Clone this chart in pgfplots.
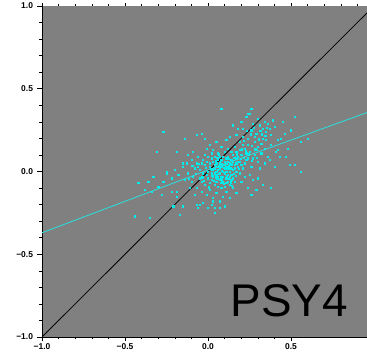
\documentclass[border=0pt]{standalone}
\usepackage{fontspec}
\setmainfont{Liberation Sans}
\usepackage{pgfplots}
\pgfplotsset{compat=1.18}
\definecolor{bggray}{RGB}{128,128,128}
\definecolor{pcyan}{RGB}{0,236,236}
\definecolor{lcyan}{RGB}{40,225,225}
\begin{document}
\begin{tikzpicture}
\begin{axis}[
  name=ax,
  scale only axis,
  width=325bp, height=331bp,
  xmin=-1, xmax=0.958, ymin=-1, ymax=1,
  axis x line*=bottom, axis y line*=left,
  axis line style={black, line width=0.6bp},
  axis background/.style={fill=bggray},
  tick align=outside,
  major tick length=4.5bp, minor tick length=2.5bp,
  tick style={black, line width=0.5bp},
  xtick={-1,-0.5,0,0.5}, xticklabels={−1.0,−0.5,0.0,0.5},
  ytick={-1,-0.5,0,0.5,1}, yticklabels={−1.0,−0.5,0.0,0.5,1.0},
  minor x tick num=4, minor y tick num=4,
  ticklabel style={font=\fontsize{8.5}{10}\selectfont\bfseries},
  xticklabel style={yshift=1bp},
  yticklabel style={xshift=-1bp},
  clip mode=individual,
]
\addplot[black, line width=0.8bp] coordinates {(-1,-1) (1,1)};
\addplot[only marks, mark=square*, mark size=0.6bp, pcyan, mark options={draw=none, fill=pcyan}] coordinates {
(0.02,0.01) (0.05,-0.02) (0.08,0.03) (0.10,-0.01) (0.12,0.02) (0.04,0.04) (0.07,-0.05) (0.09,0.00)
(0.11,-0.04) (0.13,0.05) (0.06,0.01) (0.03,-0.03) (0.01,0.03) (0.14,-0.02) (0.08,-0.07) (0.10,0.06)
(0.05,0.05) (0.12,-0.06) (0.07,0.02) (0.09,-0.03) (0.15,0.01) (0.02,-0.05) (0.04,-0.01) (0.11,0.03)
(0.13,-0.08) (0.06,-0.09) (0.08,0.07) (0.00,0.00) (-0.01,-0.02) (0.03,0.06) (0.16,0.04) (0.14,0.07)
(0.10,-0.09) (0.12,0.09) (0.05,-0.06) (0.07,0.05) (0.09,0.04) (0.11,0.00) (0.13,0.02) (0.15,-0.04)
(0.17,0.00) (0.06,-0.03) (0.04,0.02) (0.02,0.08) (0.01,-0.07) (0.08,-0.10) (0.10,0.02) (0.12,-0.02)
(0.14,0.04) (0.16,-0.06) (0.18,0.03) (0.07,-0.01) (0.09,0.09) (0.05,0.00) (0.03,0.01) (0.11,-0.07)
(0.13,0.00) (0.15,0.06) (0.17,0.08) (0.19,-0.01) (-0.02,0.04) (0.00,-0.04) (0.06,0.07) (0.08,-0.04)
(0.10,0.04) (0.12,0.06) (0.14,-0.05) (0.06,0.03) (0.04,-0.08) (0.02,-0.01) (0.09,-0.06) (0.11,0.08)
(0.13,-0.03) (0.07,0.09) (0.05,0.03) (0.16,0.02) (0.18,0.06) (0.20,0.04) (0.01,0.05) (-0.03,-0.01)
(0.035,0.015) (0.065,-0.015) (0.095,0.025) (0.115,-0.025) (0.085,0.045) (0.055,-0.045) (0.125,0.035) (0.145,0.015)
(0.075,-0.035) (0.105,0.055) (0.025,-0.025) (0.155,-0.015) (0.045,0.065) (0.165,0.055) (0.135,-0.065) (0.015,0.015)
(0.085,0.005) (0.105,-0.045) (0.125,0.075) (0.145,0.045) (0.165,-0.025) (0.185,0.015) (0.065,0.035) (0.045,-0.035)
(0.095,-0.075) (0.115,0.045) (0.135,0.025) (0.155,0.085) (0.175,0.045) (0.195,0.075) (0.215,0.085) (0.075,0.065)
(0.055,0.085) (0.035,-0.055) (0.105,0.015) (0.125,-0.045) (0.145,-0.085) (0.085,-0.055) (0.065,0.105) (0.175,0.105)
(0.20,0.10) (0.22,0.14) (0.25,0.12) (0.28,0.18) (0.30,0.15) (0.33,0.20) (0.35,0.24) (0.38,0.22)
(0.40,0.27) (0.42,0.19) (0.24,0.20) (0.26,0.25) (0.29,0.23) (0.31,0.28) (0.34,0.30) (0.37,0.26)
(0.39,0.31) (0.23,0.33) (0.25,0.35) (0.21,0.26) (0.19,0.18) (0.17,0.22) (0.27,0.08) (0.30,0.06)
(0.32,0.11) (0.34,0.14) (0.36,0.09) (0.38,0.16) (0.41,0.12) (0.44,0.20) (0.46,0.23) (0.48,0.14)
(0.50,0.25) (0.52,0.33) (0.45,0.30) (0.43,0.09) (0.47,0.09) (0.49,0.04) (0.22,0.05) (0.24,0.08)
(0.26,0.03) (0.28,0.10) (0.21,0.16) (0.23,0.11) (0.19,0.13) (0.18,0.09) (0.27,0.29) (0.30,0.32)
(0.33,0.26) (0.36,0.29) (0.24,0.16) (0.28,0.21) (0.32,0.17) (0.35,0.19) (0.29,0.13) (0.31,0.02)
(0.34,0.05) (0.37,0.07) (0.40,0.03) (0.25,-0.02) (0.27,-0.05) (0.30,-0.04) (0.33,-0.08) (0.22,-0.03)
(0.20,-0.06) (0.24,-0.10) (0.29,-0.11) (0.38,-0.10) (0.26,-0.14) (0.56,0.18) (0.60,0.20) (0.52,0.04)
(0.56,0.00) (0.42,0.13) (0.26,0.38) (0.08,0.38) (0.24,0.35) (0.23,0.07) (0.21,0.02) (0.19,0.06)
(0.225,0.125) (0.245,0.105) (0.265,0.155) (0.285,0.135) (0.305,0.195) (0.325,0.225) (0.345,0.215) (0.255,0.225)
(0.275,0.265) (0.215,0.185) (0.235,0.245) (0.315,0.245) (0.355,0.265) (0.265,0.065) (0.295,0.085) (0.205,0.135)
(0.15,0.28) (0.13,0.21) (0.11,0.19) (0.16,0.15) (0.14,0.12) (0.12,0.14) (0.18,0.26) (0.20,0.30)
(0.10,0.12) (0.08,0.15) (0.06,0.11) (0.05,0.18) (0.03,0.13) (0.17,0.12) (0.15,0.10) (0.21,0.21)
(-0.02,-0.08) (-0.05,-0.04) (-0.08,0.02) (-0.10,-0.06) (-0.12,-0.01) (-0.15,0.03) (-0.07,-0.10) (-0.04,-0.12)
(-0.01,-0.14) (0.01,-0.11) (0.03,-0.16) (0.05,-0.13) (0.07,-0.18) (0.09,-0.15) (0.11,-0.12) (0.13,-0.16)
(0.15,-0.10) (0.17,-0.13) (0.02,-0.20) (0.04,-0.22) (0.07,-0.22) (0.10,-0.21) (-0.03,-0.19) (-0.06,-0.22)
(-0.05,-0.20) (0.03,-0.18) (-0.08,-0.14) (-0.11,-0.10) (-0.14,-0.05) (-0.18,-0.02) (-0.20,0.01) (-0.22,-0.04)
(-0.25,-0.01) (-0.19,-0.12) (-0.22,-0.12) (-0.19,-0.15) (-0.13,0.05) (-0.15,0.05) (-0.10,0.07) (-0.06,0.09)
(-0.04,0.05) (-0.02,0.10) (-0.09,0.12) (-0.12,0.10) (-0.14,0.20) (-0.07,0.22) (-0.04,0.23) (-0.02,0.20)
(-0.19,0.12) (-0.31,0.12) (-0.27,0.24) (-0.27,-0.06) (-0.28,-0.14) (-0.34,-0.12) (-0.38,-0.11) (-0.42,-0.07)
(-0.44,-0.27) (-0.35,-0.28) (-0.17,-0.26) (-0.21,-0.21) (-0.15,-0.21) (-0.07,-0.20) (0.00,-0.22) (0.04,-0.25)
(-0.25,0.00) (-0.33,-0.03) (-0.30,-0.09) (-0.36,-0.06) (0.01,0.16) (-0.01,0.14) (-0.06,0.03) (-0.03,0.07)
(-0.09,-0.03) (-0.05,0.01) (-0.01,0.06) (0.00,0.09) (-0.04,-0.06) (-0.07,0.05) (0.02,0.11) (0.04,0.09)
(-0.015,0.025) (-0.035,-0.035) (-0.055,0.045) (-0.075,-0.015) (-0.095,0.035) (-0.115,-0.045) (-0.025,-0.055) (0.005,-0.095)
};
\addplot[lcyan, line width=0.8bp] coordinates {(-1,-0.37) (-0.04,-0.006) (0.17,0.07) (0.958,0.356)};
\pgfplotsinvokeforeach{-0.9,-0.8,-0.7,-0.6,-0.4,-0.3,-0.2,-0.1,0.1,0.2,0.3,0.4,0.6,0.7,0.8,0.9}{
  \draw[black, line width=0.5bp] (axis cs:#1,1) -- ([yshift=2bp]axis cs:#1,1);
}
\pgfplotsinvokeforeach{-1,-0.5,0,0.5}{
  \draw[black, line width=0.5bp] (axis cs:#1,1) -- ([yshift=3bp]axis cs:#1,1);
}
\node[anchor=base east, font=\fontsize{46}{50}\selectfont, inner sep=0pt] at (rel axis cs:0.9415,0.0634) {PSY4};
\end{axis}
\pgfresetboundingbox
\path[use as bounding box] ([xshift=-42bp,yshift=-19bp]ax.south west) rectangle ([yshift=6bp]ax.north east);
\end{tikzpicture}
\end{document}
